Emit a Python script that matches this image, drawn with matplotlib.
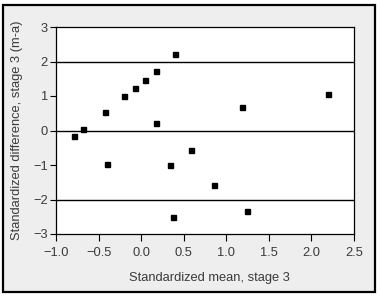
import matplotlib
matplotlib.use('Agg')
from matplotlib import pyplot as plt
from matplotlib.patches import Rectangle

# standardized mean (x) and standardized difference (y), stage 3
mean_vals = [-0.785, -0.68, -0.43, -0.20, -0.07, 0.05, 0.17, 0.40, 0.17,
             2.19, 1.18, -0.40, 0.34, 0.38, 0.59, 0.85, 1.24]
diff_vals = [-0.17, 0.04, 0.53, 1.01, 1.23, 1.47, 1.73, 2.23, 0.23,
             1.07, 0.69, -0.98, -1.01, -2.50, -0.57, -1.58, -2.34]
ref_lines = [-2, 0, 2]
xticks = [-1.0, -0.5, 0.0, 0.5, 1.0, 1.5, 2.0, 2.5]
yticks = [-3, -2, -1, 0, 1, 2, 3]

plt.rcParams['font.family'] = ['Liberation Sans', 'DejaVu Sans']
fs = 9.3
txt = '#3a3a3a'

fig = plt.figure(figsize=(3.81, 2.97), dpi=100)
fig.patch.set_facecolor('white')
fig.patches.append(Rectangle((3 / 381, 5 / 297), 372 / 381, 287 / 297,
                             transform=fig.transFigure, facecolor='#eeeeee',
                             edgecolor='black', linewidth=1.6, zorder=-10))

ax = fig.add_axes([56 / 381, 63 / 297, 298 / 381, 207 / 297])
ax.set_facecolor('white')
for y in ref_lines:
    ax.axhline(y, color='black', lw=1.0, zorder=1)
ax.plot(mean_vals, diff_vals, 's', color='black', ms=3.6, zorder=3)

ax.set_xlim(-1.0, 2.5)
ax.set_ylim(-3, 3)
ax.set_xticks(xticks)
ax.set_xticklabels([f'{v:.1f}'.replace('-', '\u2212') for v in xticks])
ax.set_yticks(yticks)
ax.set_yticklabels([str(v).replace('-', '\u2212') for v in yticks])
ax.tick_params(direction='out', width=0.8, colors='black',
               labelcolor=txt, labelsize=fs)
ax.tick_params(axis='x', length=5, pad=4.5)
ax.tick_params(axis='y', length=4.3, pad=1.5)
for s in ax.spines.values():
    s.set_linewidth(0.9)

ax.set_xlabel('Standardized mean, stage 3', color=txt, fontsize=fs)
ax.set_ylabel('Standardized difference, stage 3 (m-a)', color=txt, fontsize=fs)
ax.xaxis.set_label_coords(0.515, -0.185)
ax.yaxis.set_label_coords(-0.111, 0.5)

plt.savefig('out.png', dpi=100)
plt.close()
